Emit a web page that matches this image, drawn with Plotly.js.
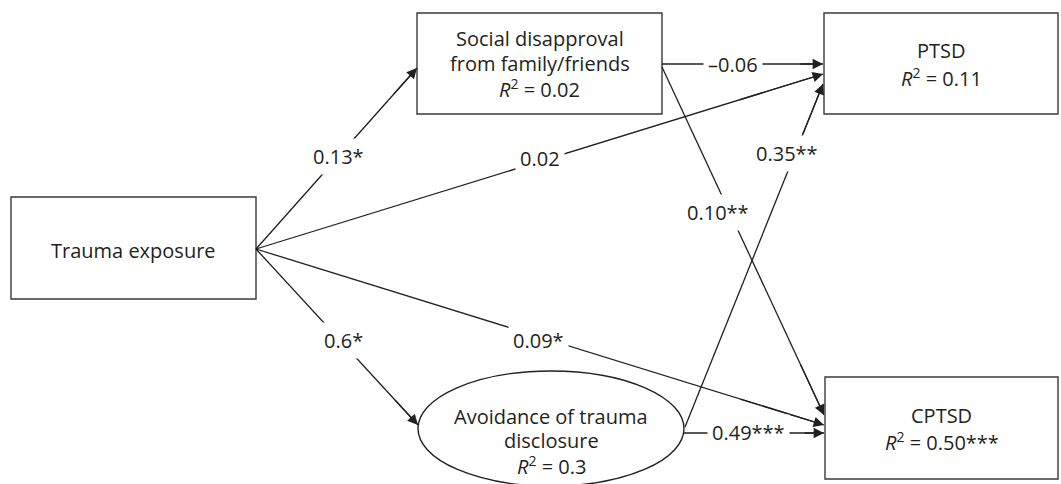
<!DOCTYPE html>
<html>
<head>
<meta charset="utf-8">
<script src="https://cdn.plot.ly/plotly-3.0.1.min.js"></script>
<style>html,body{margin:0;padding:0;background:#fff;}#chart{width:1061px;height:484px;}</style>
</head>
<body>
<div id="chart"></div>
<script>
// ---- data ----
const nodeNames = ['Trauma exposure', 'Social disapproval<br>from family/friends', 'Avoidance of trauma<br>disclosure', 'PTSD', 'CPTSD'];
const nodeR2 = [null, '0.02', '0.3', '0.11', '0.50***'];
const pathFrom = [0, 0, 0, 0, 1, 1, 2, 2];
const pathTo = [1, 2, 3, 4, 3, 4, 3, 4];
const pathCoef = ['0.13*', '0.6*', '0.02', '0.09*', '\u20130.06', '0.10**', '0.35**', '0.49***'];

// ---- layout geometry (pixels) ----
const W = 1061, H = 484;
const nodeBox = [
  {type: 'rect', x0: 11, x1: 256, y0: 197, y1: 299, ly: [250]},
  {type: 'rect', x0: 417, x1: 662, y0: 13, y1: 114, ly: [38, 63, 88]},
  {type: 'circle', x0: 418, x1: 684, y0: 371, y1: 486, ly: [416, 440, 465]},
  {type: 'rect', x0: 824, x1: 1058, y0: 13, y1: 114, ly: [50, 77]},
  {type: 'rect', x0: 825, x1: 1058, y0: 377, y1: 479, ly: [415, 441]}
];
const pathGeom = [
  {tail: [256, 249], tip: [417, 68], lab: [338, 156]},
  {tail: [256, 249], tip: [418, 425], lab: [343, 340]},
  {tail: [256, 249], tip: [823, 74], lab: [540, 158]},
  {tail: [256, 249], tip: [824, 425], lab: [538, 340]},
  {tail: [662, 64], tip: [823, 64], lab: [733, 64]},
  {tail: [662, 67], tip: [824, 415], lab: [718, 212]},
  {tail: [685, 427], tip: [823, 84], lab: [787, 153]},
  {tail: [684, 433], tip: [824, 433], lab: [748, 432]}
];

const ink = '#231f20';
const fontFam = '"Open Sans", "Noto Sans", sans-serif';
const fs = 20;
const shapes = [];
const annotations = [];

nodeNames.forEach((name, i) => {
  const g = nodeBox[i];
  shapes.push({type: g.type, xref: 'x', yref: 'y', x0: g.x0, x1: g.x1, y0: g.y0, y1: g.y1,
    line: {color: g.type === 'rect' ? '#3a3a3a' : ink, width: 1.4}, fillcolor: 'rgba(0,0,0,0)'});
  const lines = name.split('<br>');
  if (nodeR2[i] !== null) lines.push('<i>R</i><sup>2</sup> = ' + nodeR2[i]);
  lines.forEach((t, k) => {
    annotations.push({xref: 'x', yref: 'y', x: (g.x0 + g.x1) / 2, y: g.ly[k], text: t, showarrow: false,
      font: {family: fontFam, size: fs, color: ink}, align: 'center', xanchor: 'center', yanchor: 'middle'});
  });
});

pathCoef.forEach((c, i) => {
  const g = pathGeom[i];
  shapes.push({type: 'line', xref: 'x', yref: 'y', x0: g.tail[0], y0: g.tail[1], x1: g.tip[0], y1: g.tip[1],
    line: {color: ink, width: 1.3}});
  annotations.push({xref: 'x', yref: 'y', x: g.tip[0], y: g.tip[1], axref: 'x', ayref: 'y',
    ax: g.tip[0] - (g.tip[0] - g.tail[0]) * 0.15, ay: g.tip[1] - (g.tip[1] - g.tail[1]) * 0.15,
    text: '', showarrow: true, arrowhead: 2, arrowsize: 1.6, arrowwidth: 1.3, arrowcolor: ink, standoff: 0});
});

pathCoef.forEach((c, i) => {
  const g = pathGeom[i];
  annotations.push({xref: 'x', yref: 'y', x: g.lab[0], y: g.lab[1], text: c, showarrow: false,
    bgcolor: '#ffffff', borderpad: 4, font: {family: fontFam, size: fs, color: ink},
    xanchor: 'center', yanchor: 'middle'});
});

const layout = {
  width: W, height: H,
  margin: {l: 0, r: 0, t: 0, b: 0},
  paper_bgcolor: '#ffffff', plot_bgcolor: '#ffffff',
  xaxis: {range: [0, W], visible: false, fixedrange: true},
  yaxis: {range: [H, 0], visible: false, fixedrange: true},
  showlegend: false,
  shapes: shapes,
  annotations: annotations
};

Plotly.newPlot('chart', [{x: [], y: [], type: 'scatter', mode: 'markers'}], layout, {staticPlot: true, displayModeBar: false});
</script>
</body>
</html>
